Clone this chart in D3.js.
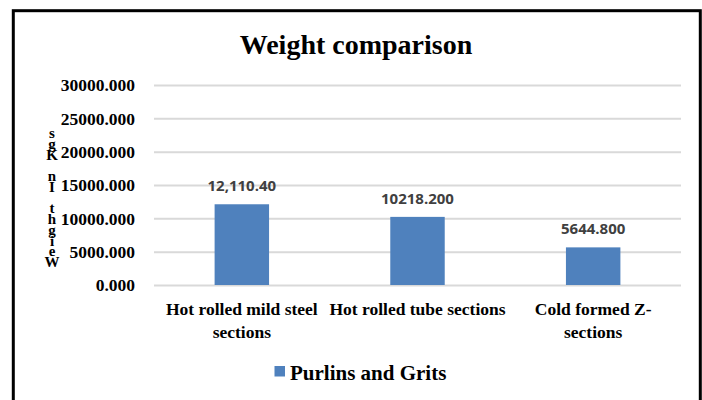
<!DOCTYPE html>
<html>
<head>
<meta charset="utf-8">
<script src="https://cdn.jsdelivr.net/npm/d3@7"></script>
<style>
  body { margin: 0; background: #fff; }
  svg { display: block; }
  .serif { font-family: "Liberation Serif", "Times New Roman", serif; font-weight: bold; fill: #000; }
</style>
</head>
<body>
<div id="chart"></div>
<script>
// data
var categories = ["Hot rolled mild steel sections", "Hot rolled tube sections", "Cold formed Z-sections"];
var categoryLines = [["Hot rolled mild steel", "sections"], ["Hot rolled tube sections"], ["Cold formed Z-", "sections"]];
var values = [12110.40, 10218.200, 5644.800];
var valueLabels = ["12,110.40", "10218.200", "5644.800"];
var yTicks = [0, 5000, 10000, 15000, 20000, 25000, 30000];
var seriesName = "Purlins and Grits";
var yTitle = "Weight In Kgs";

var width = 702, height = 400;
var plot = { left: 154, right: 681, top: 85, bottom: 285 };

var svg = d3.select('#chart')
  .append('svg')
    .attr('width', width)
    .attr('height', height);

// chart border
svg.append('rect')
  .attr('x', 13.3)
  .attr('y', 10.7)
  .attr('width', 687)
  .attr('height', 500)
  .attr('fill', '#fff')
  .attr('stroke', '#000')
  .attr('stroke-width', 3);

var x = d3.scaleBand()
  .domain(categories)
  .range([plot.left, plot.right])
  .paddingInner(0.69)
  .paddingOuter(0.345);

var y = d3.scaleLinear()
  .domain([0, 30000])
  .range([plot.bottom, plot.top]);

// y axis + gridlines
var yAxis = svg.append('g')
  .attr('transform', 'translate(' + plot.left + ',0)')
  .call(d3.axisLeft(y)
    .tickValues(yTicks)
    .tickFormat(d3.format('.3f'))
    .tickSizeInner(-(plot.right - plot.left))
    .tickSizeOuter(0)
    .tickPadding(19));
yAxis.select('.domain').remove();
yAxis.selectAll('.tick line')
  .attr('stroke', '#d9d9d9')
  .attr('stroke-width', 2);
yAxis.selectAll('.tick text')
  .attr('class', 'serif')
  .style('font-size', '17.5px')
  .attr('dy', '0.33em');

// bars
svg.append('g')
  .selectAll('rect')
  .data(values)
  .join('rect')
    .attr('x', (d, i) => x(categories[i]))
    .attr('y', d => y(d))
    .attr('width', x.bandwidth())
    .attr('height', d => y(0) - y(d))
    .attr('fill', '#4f81bd');

// value labels
svg.append('g')
  .selectAll('text')
  .data(values)
  .join('text')
    .attr('x', (d, i) => x(categories[i]) + x.bandwidth() / 2)
    .attr('y', d => y(d) - 13)
    .attr('text-anchor', 'middle')
    .style('font-family', '"Open Sans", sans-serif')
    .style('font-weight', 'bold')
    .style('font-size', '15px')
    .attr('fill', '#404040')
    .text((d, i) => valueLabels[i]);

// category labels
categoryLines.forEach((lines, i) => {
  var t = svg.append('text')
    .attr('class', 'serif')
    .attr('text-anchor', 'middle')
    .style('font-size', '17.5px')
    .attr('x', x(categories[i]) + x.bandwidth() / 2)
    .attr('y', 315);
  lines.forEach((line, j) => {
    t.append('tspan')
      .attr('x', x(categories[i]) + x.bandwidth() / 2)
      .attr('dy', j == 0 ? 0 : 23)
      .text(line);
  });
});

// title
svg.append('text')
  .attr('class', 'serif')
  .attr('x', 356)
  .attr('y', 54)
  .attr('text-anchor', 'middle')
  .style('font-size', '28px')
  .text('Weight comparison');

// y axis title: letters stacked upright, bottom to top, in one text element
var yTitleText = svg.append('text')
  .attr('class', 'serif')
  .attr('text-anchor', 'middle')
  .style('font-size', '15px');
yTitle.split('').forEach((ch, i) => {
  yTitleText.append('tspan')
    .attr('x', 52)
    .attr('y', 267 - i * 10.75)
    .text(ch);
});

// legend
svg.append('rect')
  .attr('x', 274.5)
  .attr('y', 366)
  .attr('width', 10.5)
  .attr('height', 10.5)
  .attr('fill', '#4f81bd');
svg.append('text')
  .attr('class', 'serif')
  .attr('x', 290)
  .attr('y', 380)
  .style('font-size', '21px')
  .text(seriesName);
</script>
</body>
</html>
